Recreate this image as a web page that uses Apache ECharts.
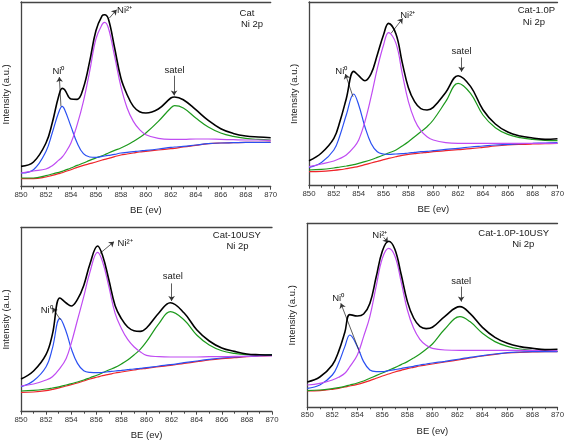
<!DOCTYPE html>
<html><head><meta charset="utf-8">
<script src="https://cdn.jsdelivr.net/npm/echarts/dist/echarts.min.js"></script>
<style>html,body{margin:0;padding:0;background:#fff}#c{width:567px;height:442px}</style>
</head><body><div id="c"></div>
<script>
// ---- data (binding energy in eV, intensity in arbitrary units) ----
const p1X = [850, 851, 852, 852.5, 853, 853.3, 853.5, 854, 854.5, 855, 855.5, 856, 856.5, 856.7, 857, 857.5, 858, 858.5, 859, 859.5, 860, 861, 862, 862.3, 863, 864, 865, 866, 867, 868, 869, 870];
const p1Total = [20.3, 24.7, 43.7, 63.7, 89.7, 98.3, 97, 87.7, 87.3, 99, 125.3, 156, 171, 172, 167.7, 138.7, 108.7, 92, 80.3, 75, 73.7, 77.7, 88.7, 89.7, 87, 77, 66.3, 58, 53.3, 50.7, 49.7, 49];
const p1Ni2 = [13.7, 15.7, 17.7, 21, 26.3, 29.7, 33, 43.7, 62, 85.3, 115.3, 147.7, 162.3, 164.3, 158.7, 130.3, 100.3, 78.7, 65.3, 57, 52, 48.3, 47.3, 47.3, 47.3, 47.7, 47.7, 47.3, 47, 46.7, 46.7, 46.3];
const p1Ni0 = [13.7, 17, 35.3, 53.7, 73.7, 80.3, 77, 60.3, 43.7, 33, 29.7, 29.3, 30.3, 30.7, 31.3, 32.3, 33.7, 34.3, 35, 35.7, 36.3, 37.7, 39.3, 39.7, 40.3, 41.7, 43, 43.7, 44, 44.3, 44.3, 44.3];
const p1Sat = [8.7, 8.7, 11, 12.7, 14.3, 15.3, 16.3, 18.7, 21.3, 23.7, 26.3, 28.7, 31, 32, 33.7, 36.3, 38.7, 41.7, 45.3, 49.3, 53.7, 65.3, 78.7, 81, 78.7, 68.7, 59.7, 53.7, 50.3, 48.3, 47.3, 46.7];
const p1Bg = [8, 8, 9.7, 11.3, 13, 14, 15, 17, 19.3, 21.3, 23, 24.7, 26.7, 27.3, 28.3, 30, 31.7, 32.7, 33.7, 34.7, 35.3, 36.7, 38, 38.3, 39.7, 41.3, 43, 43.7, 44, 44.3, 44.3, 44.7];

const p2X = [850, 851, 852, 852.5, 853, 853.6, 854, 854.5, 855, 855.5, 856, 856.4, 857, 857.5, 858, 858.5, 859, 859.5, 860, 861, 862, 863, 864, 865, 866, 867, 868, 869, 870];
const p2Total = [25, 32.7, 47.3, 64.7, 87, 114.3, 110, 105, 112, 131, 151, 162.3, 151.7, 123.3, 98, 84, 77, 75.7, 78.3, 93.3, 110, 99.3, 76, 61.7, 53.7, 49.7, 47.7, 46.3, 47];
const p2Ni2 = [19, 21.7, 24.7, 27.3, 30.7, 38.3, 45.7, 64, 89, 117.3, 140.7, 153, 142.3, 112.3, 84, 65.7, 55, 49, 45.7, 43, 42.3, 42.3, 42.3, 42.3, 42.3, 42.3, 42.3, 42.3, 42.3];
const p2Ni0 = [18.3, 23.3, 35.7, 50.7, 70.7, 91.7, 80.7, 59, 42.3, 34, 31.7, 31.3, 31.7, 32, 32.7, 33.3, 34, 34.3, 35, 36.3, 37.3, 38.7, 39.7, 40.7, 41.3, 42, 42.3, 42.7, 43];
const p2Sat = [15.7, 16.3, 17.7, 18.7, 19.7, 21, 22.3, 24, 26, 28.3, 30.7, 32.7, 35.7, 39.7, 44, 49, 54, 59, 65.7, 84, 102.3, 92.3, 70.7, 58, 51.3, 48, 46.3, 45.3, 45];
const p2Bg = [14, 14.3, 15.3, 16, 17, 18.3, 19.3, 21, 22.7, 24.3, 26, 27.3, 29, 30.3, 31.3, 32, 32.7, 33.3, 34, 35, 36, 37, 38.3, 39.7, 40.7, 41.3, 41.7, 42, 42.3];

const p3X = [850, 851, 852, 852.5, 853.1, 853.6, 854, 854.5, 855, 855.5, 856.1, 856.5, 857, 857.5, 858, 858.5, 859, 859.5, 860, 861, 861.9, 863, 864, 865, 866, 867, 868, 869, 870];
const p3Total = [32.7, 40.7, 57.3, 77.3, 113.7, 108.7, 105.7, 112.3, 126.3, 148, 165.7, 156.3, 132, 106, 93, 84.7, 81, 80.3, 83.7, 99, 109, 98.7, 82, 70.7, 63.7, 60.3, 57.7, 57, 56.7];
const p3Ni2 = [25.7, 27.7, 31.7, 35, 43.3, 53.3, 68.3, 91.7, 115, 140, 159.3, 150, 125, 98.3, 83.3, 72.3, 65, 60, 56.3, 55, 54.7, 54.7, 54.7, 55, 55, 55.3, 55.3, 55.7, 55.7];
const p3Ni0 = [25, 31, 45, 63.3, 93.3, 80, 63.3, 48.3, 41, 39.3, 39, 39.3, 40, 40.7, 41.3, 42, 42.7, 43.3, 44, 45.7, 47, 49, 50.7, 52.3, 53.7, 54.7, 55.3, 56, 56.7];
const p3Sat = [20.7, 21.3, 22.7, 23.7, 25, 26.7, 28, 29.7, 31.7, 34, 36.7, 39, 41.7, 44.3, 47.7, 51.7, 56.7, 62.3, 70, 88.3, 100, 91.7, 76.7, 66.7, 61, 58.3, 57, 56.7, 57];
const p3Bg = [19.3, 19.7, 21, 22.3, 24, 25.7, 27, 28.7, 30.7, 32.7, 34.7, 36, 37.3, 38.7, 39.7, 40.7, 41.7, 42.7, 43.3, 45, 46.3, 48.3, 50, 51.7, 53, 54, 55, 55.7, 56.3];

const p4X = [850, 851, 852, 852.5, 853, 853.4, 854, 854.5, 855, 855.5, 856, 856.5, 857, 857.5, 858, 858.5, 859, 859.5, 860, 861, 862.2, 863, 864, 865, 866, 867, 868, 869, 870];
const p4Total = [25.3, 30.3, 42.3, 55.7, 75, 92.7, 91.3, 93.3, 103.7, 130, 156.3, 166, 158, 133, 105.7, 89.3, 81, 78.7, 80, 91, 100.7, 94, 80, 70, 64, 60.7, 59, 57.7, 58];
const p4Ni2 = [22.3, 24, 27.3, 30, 34, 40.7, 52.3, 70.7, 90.7, 120.7, 149, 159, 151.3, 125.7, 97.3, 79, 68, 62, 59, 57.3, 57, 57, 57, 57, 57, 57, 57, 57, 56.7];
const p4Ni0 = [19, 22.3, 32.3, 44, 60.7, 72.3, 60.7, 45.7, 37.3, 35.7, 35.7, 36.7, 37.7, 38.7, 40, 41, 42.3, 43.3, 44.3, 46, 48.3, 50, 51.7, 53.3, 54.7, 55.3, 55.7, 55.7, 55.7];
const p4Sat = [16.7, 17.3, 18.7, 19.7, 21, 22.3, 24.3, 26.3, 29, 31.7, 34.3, 37, 39.7, 42.7, 45.7, 49.3, 53.3, 58, 63.3, 78.3, 90.7, 85.7, 74, 65.7, 61, 58.3, 57, 56.3, 56];
const p4Bg = [16.3, 16.7, 18, 19, 20.3, 21.3, 23, 24.7, 26.7, 29, 31.3, 33.3, 35.3, 37, 38.7, 40, 41.3, 42.3, 43.3, 45.3, 47.7, 49.3, 51.3, 53, 54.3, 55, 55.3, 55.7, 55.7];

const sampleNames = ['Cat', 'Cat-1.0P', 'Cat-10USY', 'Cat-1.0P-10USY'];
const regionLabel = 'Ni 2p';
const xAxisTitle = 'BE (ev)';
const yAxisTitle = 'Intensity (a.u.)';
const xMin = 850, xMax = 870, xStep = 2;

// ---- layout / styling (not data) ----
const FONT = 'Liberation Sans, Arial, sans-serif';
const layout = [
  {grid: {left: 20, top: 2, right: 296.3, bottom: 255.3}, yMax: 184.7,
   title: [[868.1, 173.7], [868.5, 162]],
   labels: [['Ni\u2070', 853.0, 115.3], ['Ni\u00b2\u207a', 858.3, 176], ['satel', 862.3, 116.3]],
   arrows: [[[853.2, 80.3], [853.07, 109.7]], [[857.08, 168.7], [857.66, 177]], [[862.26, 111], [862.26, 91.3]]]},
  {grid: {left: 309, top: 2, right: 7.7, bottom: 256.3}, yMax: 183.7,
   title: [[868.3, 175], [868.1, 163.3]],
   labels: [['Ni\u2070', 852.6, 114], ['Ni\u00b2\u207a', 857.95, 170.7], ['satel', 862.28, 134]],
   arrows: [[[853.54, 89], [852.93, 111.7]], [[856.6, 152.3], [857.54, 167.3]], [[862.28, 128.3], [862.28, 114]]]},
  {grid: {left: 21, top: 227.3, right: 295, bottom: 30.3}, yMax: 184.4,
   title: [[867.2, 176.7], [867.25, 165]],
   labels: [['Ni\u2070', 852.05, 101.7], ['Ni\u00b2\u207a', 858.3, 168.3], ['satel', 862.1, 135]],
   arrows: [[[853.16, 91.7], [852.5, 104]], [[856.29, 158.3], [857.41, 170]], [[862.0, 128.3], [862.0, 110.7]]]},
  {grid: {left: 307.3, top: 223.3, right: 9, bottom: 34.7}, yMax: 184,
   title: [[866.5, 174], [867.26, 163.3]],
   labels: [['Ni\u2070', 852.47, 109], ['Ni\u00b2\u207a', 855.8, 172.3], ['satel', 862.3, 125.7]],
   arrows: [[[854.2, 54.7], [852.68, 104]], [[856.1, 170], [856.45, 164.7]], [[862.3, 120.7], [862.3, 105.7]]]}
];

const panelData = [
  {x: p1X, total: p1Total, ni2: p1Ni2, ni0: p1Ni0, sat: p1Sat, bg: p1Bg},
  {x: p2X, total: p2Total, ni2: p2Ni2, ni0: p2Ni0, sat: p2Sat, bg: p2Bg},
  {x: p3X, total: p3Total, ni2: p3Ni2, ni0: p3Ni0, sat: p3Sat, bg: p3Bg},
  {x: p4X, total: p4Total, ni2: p4Ni2, ni0: p4Ni0, sat: p4Sat, bg: p4Bg}
];

const colors = {bg: '#f0242a', sat: '#1d9a1d', ni0: '#2a50f2', ni2: '#c04cf2', total: '#000000'};
const widths = {bg: 1.2, sat: 1.2, ni0: 1.2, ni2: 1.2, total: 1.6};
const order = ['bg', 'sat', 'ni0', 'ni2', 'total'];

const grid = [], xAxis = [], yAxis = [], series = [];
layout.forEach((L, i) => {
  grid.push(Object.assign({containLabel: false}, L.grid));
  xAxis.push({
    type: 'value', gridIndex: i, min: xMin, max: xMax, interval: xStep,
    name: xAxisTitle, nameLocation: 'middle', nameGap: 19,
    nameTextStyle: {fontFamily: FONT, fontSize: 9.5, color: '#222'},
    axisLine: {show: true, onZero: false, lineStyle: {color: '#444', width: 1.3}},
    axisTick: {show: true, inside: false, length: 3, lineStyle: {color: '#444', width: 1}},
    minorTick: {show: true, splitNumber: 2, length: 2, lineStyle: {color: '#444', width: 1}},
    axisLabel: {fontFamily: FONT, fontSize: 7.8, color: '#333', margin: 4},
    splitLine: {show: false}
  });
  xAxis.push({
    type: 'value', gridIndex: i, position: 'top', min: xMin, max: xMax,
    axisLine: {show: true, onZero: false, lineStyle: {color: '#444', width: 1.3}},
    axisTick: {show: false}, axisLabel: {show: false}, splitLine: {show: false}
  });
  yAxis.push({
    type: 'value', gridIndex: i, min: 0, max: L.yMax,
    name: yAxisTitle, nameLocation: 'middle', nameGap: 10, nameRotate: 90,
    nameTextStyle: {fontFamily: FONT, fontSize: 9.5, color: '#222'},
    axisLine: {show: true, onZero: false, lineStyle: {color: '#444', width: 1.3}},
    axisTick: {show: false}, axisLabel: {show: false}, splitLine: {show: false}
  });
  const D = panelData[i];
  order.forEach((k, j) => {
    series.push({
      type: 'line', xAxisIndex: 2 * i, yAxisIndex: i, z: 2 + j,
      data: D.x.map((x, n) => [x, D[k][n]]),
      showSymbol: false, smooth: 0.4,
      lineStyle: {color: colors[k], width: widths[k]},
      silent: true, animation: false
    });
  });
  // annotations: texts and arrows in data coordinates
  const texts = [
    {name: sampleNames[i], coord: L.title[0]},
    {name: regionLabel, coord: L.title[1]}
  ].concat(L.labels.map(l => ({name: l[0], coord: [l[1], l[2]]})));
  series.push({
    type: 'line', xAxisIndex: 2 * i, yAxisIndex: i, data: [], z: 20,
    silent: true, animation: false,
    markPoint: {
      symbol: 'rect', symbolSize: 1, itemStyle: {color: 'rgba(0,0,0,0)'},
      label: {show: true, position: 'inside', formatter: p => p.name,
              fontFamily: FONT, fontSize: 9.5, color: '#1a1a1a'},
      data: texts, animation: false
    },
    markLine: {
      symbol: ['none', 'arrow'], symbolSize: 5, silent: true, animation: false,
      label: {show: false},
      lineStyle: {color: '#333', width: 0.8, type: 'solid'},
      data: L.arrows.map(a => [{coord: a[0]}, {coord: a[1]}])
    }
  });
});

const chart = echarts.init(document.getElementById('c'), null, {renderer: 'canvas'});
chart.setOption({backgroundColor: '#ffffff', animation: false, grid, xAxis, yAxis, series});
</script>
</body></html>
